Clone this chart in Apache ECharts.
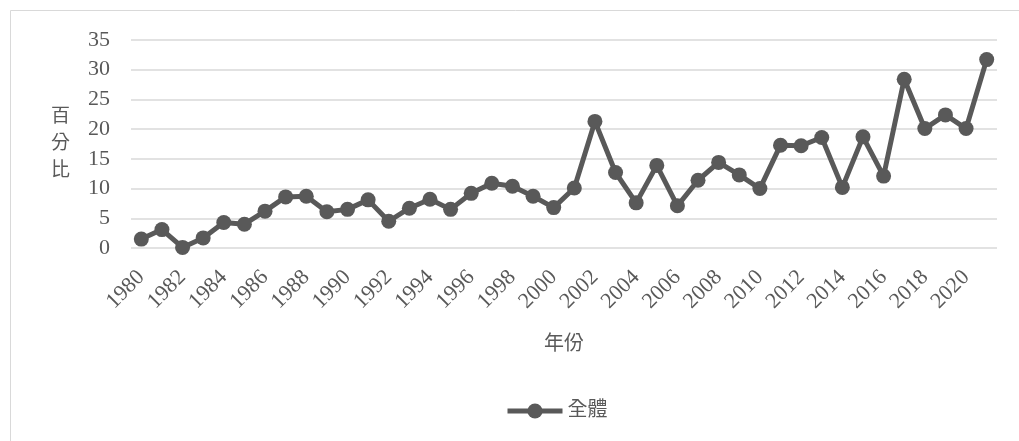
<!DOCTYPE html>
<html>
<head>
<meta charset="utf-8">
<script src="https://cdn.jsdelivr.net/npm/echarts@6/dist/echarts.min.js"></script>
<style>
  html, body { margin: 0; padding: 0; background: #ffffff; }
  #chart { width: 1019px; height: 441px; }
</style>
</head>
<body>
<div id="chart"></div>
<script>
// Years on the category axis
const years = [];
for (let y = 1980; y <= 2021; y++) years.push(String(y));

// 全體: percentage per year
const overall = [
  1.5, 3.1, 0.1, 1.7, 4.3, 4.0, 6.2, 8.6, 8.7, 6.1,
  6.5, 8.1, 4.5, 6.7, 8.2, 6.5, 9.2, 10.9, 10.4, 8.7,
  6.8, 10.1, 21.3, 12.7, 7.6, 13.9, 7.1, 11.4, 14.4, 12.3,
  10.0, 17.3, 17.2, 18.6, 10.2, 18.7, 12.1, 28.4, 20.1, 22.4,
  20.1, 31.7
];

const seriesName = '全體';
const xAxisTitle = '年份';
const yAxisTitle = '百\n分\n比';
const yTicks = { min: 0, max: 35, interval: 5 };

const FONT = "'Liberation Serif', 'Noto Sans CJK TC', serif";
const TEXT = '#595959';
const GRID = '#d9d9d9';

const chart = echarts.init(document.getElementById('chart'), null, { renderer: 'canvas' });
chart.setOption({
  backgroundColor: '#ffffff',
  animation: false,
  textStyle: { fontFamily: FONT, color: TEXT },
  graphic: [{
    type: 'rect',
    silent: true,
    shape: { x: 10.5, y: 10.5, width: 1100, height: 1000 },
    style: { fill: 'none', stroke: GRID, lineWidth: 1 }
  }],
  grid: { left: 131, right: 22, top: 40, bottom: 193 },
  legend: {
    data: [seriesName],
    left: 500,
    top: 396,
    itemWidth: 55,
    itemHeight: 19,
    itemGap: 6,
    lineStyle: { width: 5, color: TEXT },
    textStyle: { fontFamily: FONT, fontSize: 20, color: TEXT }
  },
  xAxis: {
    type: 'category',
    data: years,
    boundaryGap: true,
    name: xAxisTitle,
    nameLocation: 'middle',
    nameGap: 87,
    nameTextStyle: { fontFamily: FONT, fontSize: 20, color: TEXT },
    axisLine: { show: false },
    axisTick: { show: false },
    axisLabel: {
      interval: 1,
      rotate: 45,
      margin: 26,
      fontFamily: FONT,
      fontSize: 22,
      color: TEXT
    }
  },
  yAxis: {
    type: 'value',
    min: yTicks.min,
    max: yTicks.max,
    interval: yTicks.interval,
    name: yAxisTitle,
    nameLocation: 'middle',
    nameRotate: 0,
    nameGap: 61,
    nameTextStyle: { fontFamily: FONT, fontSize: 19, color: TEXT, lineHeight: 27 },
    axisLine: { show: false },
    axisTick: { show: false },
    axisLabel: { margin: 21, fontFamily: FONT, fontSize: 22, color: TEXT },
    splitLine: { lineStyle: { color: GRID, width: 1.5 } }
  },
  series: [{
    name: seriesName,
    type: 'line',
    data: overall,
    symbol: 'circle',
    symbolSize: 15,
    showAllSymbol: true,
    lineStyle: { color: TEXT, width: 5 },
    itemStyle: { color: TEXT }
  }]
});
</script>
</body>
</html>
